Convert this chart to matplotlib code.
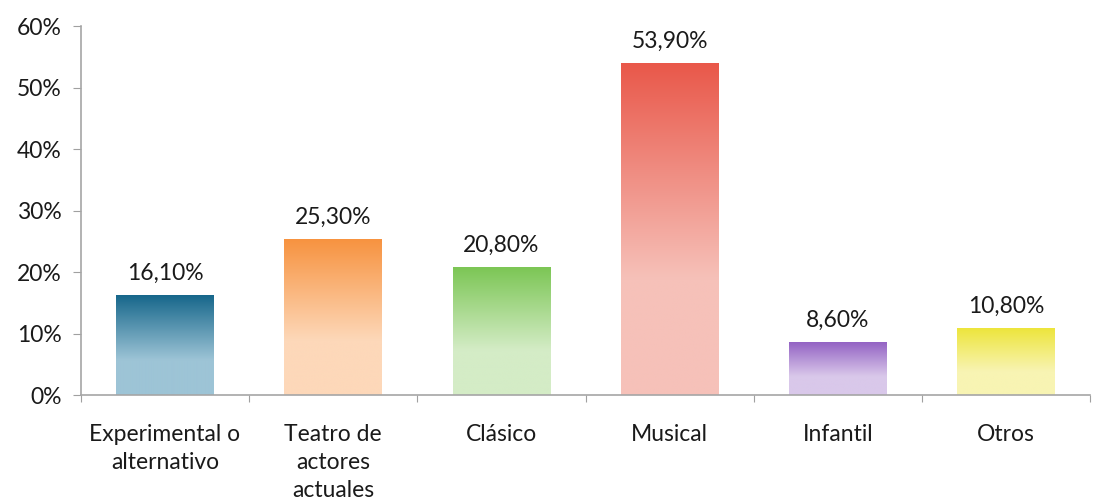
import numpy as np
import matplotlib
matplotlib.use("Agg")
import matplotlib.pyplot as plt
from matplotlib.colors import to_rgb

plt.rcParams['font.family'] = ['Lato', 'DejaVu Sans']

# data
categories = ["Experimental o\nalternativo", "Teatro de\nactores\nactuales", "Clásico",
              "Musical", "Infantil", "Otros"]
values = [16.1, 25.3, 20.8, 53.9, 8.6, 10.8]
labels = ["16,10%", "25,30%", "20,80%", "53,90%", "8,60%", "10,80%"]
top_colors = ["#17678b", "#f79340", "#7cc655", "#e9584a", "#9463c4", "#ede53c"]
bottom_colors = ["#9dc4d6", "#fdd8b9", "#d4ecc6", "#f6c1b9", "#d9c8ea", "#f8f4b3"]

fs = 16.5
txt = '#1a1a1a'

fig = plt.figure(figsize=(10.97, 5.03), dpi=100)
ax = fig.add_axes([0.0738, 0.2147, 0.9200, 0.7336])

width = 0.58
x = np.arange(len(values))
for i, v in enumerate(values):
    # vertical gradient: dark on top, fading to light in the lower part
    t = np.linspace(0, 1, 200)
    f = np.clip(t / 0.65, 0, 1)[:, None]
    c1 = np.array(to_rgb(top_colors[i]))
    c2 = np.array(to_rgb(bottom_colors[i]))
    img = (c1 * (1 - f) + c2 * f)[:, None, :]
    ax.imshow(img, extent=[x[i] - width / 2, x[i] + width / 2, 0, v],
              aspect='auto', origin='upper', zorder=2, interpolation='bilinear')
    ax.text(x[i], v + 1.9, labels[i], ha='center', va='bottom', fontsize=fs, color=txt)

ax.set_xlim(-0.5, len(values) - 0.5)
ax.set_ylim(0, 60)
ax.set_yticks(range(0, 61, 10))
ax.set_yticklabels([f"{t}%" for t in range(0, 61, 10)], fontsize=fs, color=txt)

# category labels between the boundary ticks
ax.set_xticks(np.arange(len(values) + 1) - 0.5)
ax.set_xticklabels([])
ax.set_xticks(x, minor=True)
ax.set_xticklabels(categories, minor=True, fontsize=fs, color=txt, va='top', linespacing=1.42)
ax.tick_params(axis='x', which='minor', length=0, pad=21)
ax.tick_params(axis='x', which='major', length=5, color='#a0a0a0', direction='out')
ax.tick_params(axis='y', length=6, color='#a0a0a0', pad=8)

for s in ['top', 'right']:
    ax.spines[s].set_visible(False)
for s in ['left', 'bottom']:
    ax.spines[s].set_color('#a6a6a6')
    ax.spines[s].set_linewidth(1.2)

plt.savefig("out.png", dpi=100)
